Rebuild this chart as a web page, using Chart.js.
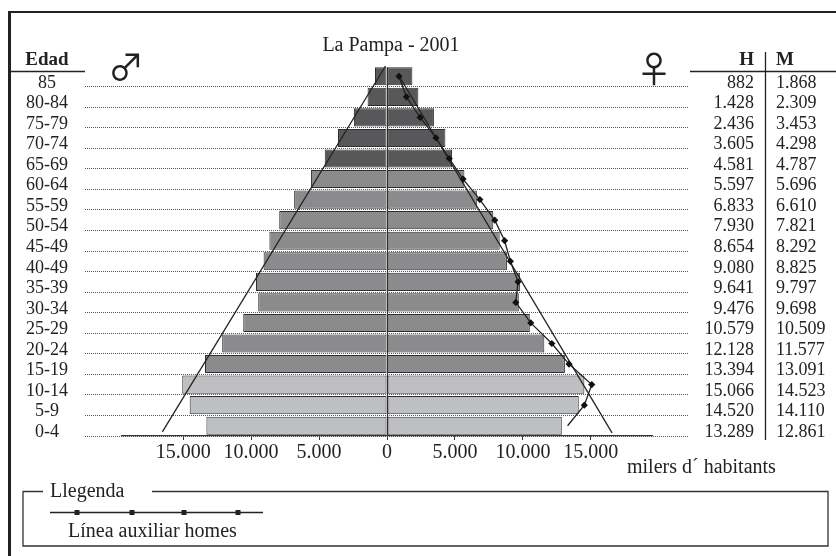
<!DOCTYPE html>
<html>
<head>
<meta charset="utf-8">
<script src="https://cdn.jsdelivr.net/npm/chart.js@4.4.1/dist/chart.umd.min.js"></script>
<style>
html,body{margin:0;padding:0;background:#fff;}
#wrap{width:836px;height:556px;}
</style>
</head>
<body>
<div id="wrap"><canvas id="piramide" width="836" height="556"></canvas></div>
<script>
var edats = ["85","80-84","75-79","70-74","65-69","60-64","55-59","50-54","45-49","40-49","35-39","30-34","25-29","20-24","15-19","10-14","5-9","0-4"];
var homes = [882,1428,2436,3605,4581,5597,6833,7930,8654,9080,9641,9476,10579,12128,13394,15066,14520,13289];
var dones = [1868,2309,3453,4298,4787,5696,6610,7821,8292,8825,9797,9698,10509,11577,13091,14523,14110,12861];
var ticksX = [-15000,-10000,-5000,0,5000,10000,15000];
// rectes guia del triangle (x en habitants, y en files des de dalt)
var guiaEsqX = [-110,-16530];
var guiaEsqY = [0,17.8];
var guiaDretaX = [900,16560];
var guiaDretaY = [0.5,17.85];

var serif = "'Liberation Serif','Times New Roman',serif";
Chart.defaults.font.family = serif;
Chart.defaults.color = "#222";

function fmt(n){
  return String(n).replace(/\B(?=(\d{3})+(?!\d))/g,".");
}

function colorFila(i){
  if(i < 5) return "#58585b";
  if(i < 15) return "#8b8b8d";
  return "#bebfc2";
}

var colors = [];
for(var i = 0;i < edats.length;i++){
  colors.push(colorFila(i));
}

var auxPunts = [];
var auxRadi = [];
for(var i = 0;i < homes.length;i++){
  auxPunts.push({x: homes[i], y: i + 0.5});
  auxRadi.push(i == homes.length - 1 ? 0 : 3.6);
}
var esqPunts = [], dretaPunts = [];
for(var i = 0;i < 2;i++){
  esqPunts.push({x: guiaEsqX[i], y: guiaEsqY[i]});
  dretaPunts.push({x: guiaDretaX[i], y: guiaDretaY[i]});
}

var decor = {
  id: "decor",
  beforeDatasetsDraw: function(chart){
    var ctx = chart.ctx, ys = chart.scales.y;
    var slot = (ys.bottom - ys.top) / edats.length;
    ctx.save();
    ctx.strokeStyle = "#555";
    ctx.lineWidth = 1;
    ctx.setLineDash([1,1]);
    for(var i = 0;i < edats.length;i++){
      var y = Math.round(ys.getPixelForValue(i) + slot/2 - 0.5) + 0.5;
      ctx.beginPath();
      ctx.moveTo(85,y);
      ctx.lineTo(689,y);
      ctx.stroke();
    }
    ctx.restore();
  },
  afterDatasetsDraw: function(chart){
    // linia central del zero
    var ctx = chart.ctx, xs = chart.scales.x;
    var barra = chart.getDatasetMeta(0).data[0];
    var x0 = Math.round(xs.getPixelForValue(0)) + 0.5;
    ctx.save();
    ctx.strokeStyle = "#2e2e2e";
    ctx.lineWidth = 1.2;
    ctx.beginPath();
    ctx.moveTo(x0, barra.y - barra.height/2);
    ctx.lineTo(x0, chart.chartArea.bottom);
    ctx.stroke();
    ctx.restore();
  },
  afterDraw: function(chart){
    var ctx = chart.ctx, ys = chart.scales.y;
    var slot = (ys.bottom - ys.top) / edats.length;
    ctx.save();
    ctx.fillStyle = "#222";
    ctx.strokeStyle = "#222";
    ctx.textBaseline = "alphabetic";

    // marc
    ctx.lineWidth = 2;
    ctx.beginPath(); ctx.moveTo(8,12); ctx.lineTo(836,12); ctx.stroke();
    ctx.lineWidth = 3;
    ctx.beginPath(); ctx.moveTo(9.5,11); ctx.lineTo(9.5,556); ctx.stroke();

    // titol
    ctx.font = "20px " + serif;
    ctx.textAlign = "center";
    ctx.fillText("La Pampa - 2001",391,51);

    // edats
    ctx.font = "bold 19px " + serif;
    ctx.fillText("Edad",47,65);
    ctx.font = "18px " + serif;
    for(var i = 0;i < edats.length;i++){
      var y = Math.round(ys.getPixelForValue(i) + slot/2) + 1;
      ctx.textAlign = "center";
      ctx.fillText(edats[i],47,y);
      ctx.textAlign = "right";
      ctx.fillText(fmt(homes[i]),754,y);
      ctx.textAlign = "left";
      ctx.fillText(fmt(dones[i]),776,y);
    }
    ctx.font = "bold 19px " + serif;
    ctx.textAlign = "right";
    ctx.fillText("H",754,65);
    ctx.textAlign = "left";
    ctx.fillText("M",776,65);

    ctx.lineWidth = 1.3;
    ctx.beginPath();
    ctx.moveTo(10,71.5); ctx.lineTo(85,71.5);
    ctx.moveTo(690,71.5); ctx.lineTo(836,71.5);
    ctx.moveTo(765.5,52); ctx.lineTo(765.5,440);
    ctx.stroke();

    // simbols
    ctx.font = "36px 'Noto Sans CJK JP','DejaVu Sans'";
    ctx.textAlign = "center";
    ctx.textBaseline = "middle";
    ctx.fillText("\u2642",126,67);
    ctx.fillText("\u2640",654,69);
    ctx.textBaseline = "alphabetic";

    // unitats
    ctx.font = "20px " + serif;
    ctx.textAlign = "left";
    ctx.fillText("milers d\u00b4 habitants",627,473);

    // llegenda
    ctx.strokeStyle = "#333";
    ctx.lineWidth = 1.3;
    ctx.beginPath();
    ctx.moveTo(43,491.5); ctx.lineTo(23,491.5); ctx.lineTo(23,546);
    ctx.lineTo(828,546); ctx.lineTo(828,491.5); ctx.lineTo(152,491.5);
    ctx.stroke();
    ctx.fillText("Llegenda",50,497);
    ctx.strokeStyle = "#222";
    ctx.beginPath(); ctx.moveTo(50,512.5); ctx.lineTo(263,512.5); ctx.stroke();
    var mk = [77,132,184,238];
    for(var k = 0;k < mk.length;k++){
      ctx.fillRect(mk[k]-2.5,510,5,5);
    }
    ctx.fillText("L\u00ednea auxiliar homes",68,537);
    ctx.restore();
  }
};

var ctx = document.getElementById("piramide").getContext("2d");
var piramide = new Chart(ctx, {
  type: "bar",
  data: {
    labels: edats,
    datasets: [{
      label: "homes",
      data: homes.map(function(v){ return -v; }),
      backgroundColor: colors,
      borderColor: "#2e2e2e",
      borderWidth: 1,
      borderSkipped: false,
      grouped: false,
      barPercentage: 0.88,
      categoryPercentage: 1,
      order: 2
    }, {
      label: "dones",
      data: dones,
      backgroundColor: colors,
      borderColor: "#2e2e2e",
      borderWidth: 1,
      borderSkipped: false,
      grouped: false,
      barPercentage: 0.88,
      categoryPercentage: 1,
      order: 2
    }, {
      type: "line",
      label: "L\u00ednea auxiliar homes",
      indexAxis: "x",
      xAxisID: "x",
      yAxisID: "yl",
      data: auxPunts,
      borderColor: "#222",
      borderWidth: 1.3,
      pointStyle: "rectRot",
      pointRadius: auxRadi,
      pointBackgroundColor: "#111",
      pointBorderWidth: 0,
      fill: false,
      clip: false,
      order: 1
    }, {
      type: "line",
      label: "guia esq",
      indexAxis: "x",
      xAxisID: "x",
      yAxisID: "yl",
      data: esqPunts,
      borderColor: "#222",
      borderWidth: 1.3,
      pointRadius: 0,
      fill: false,
      clip: false,
      order: 1
    }, {
      type: "line",
      label: "guia dreta",
      indexAxis: "x",
      xAxisID: "x",
      yAxisID: "yl",
      data: dretaPunts,
      borderColor: "#222",
      borderWidth: 1.3,
      pointRadius: 0,
      fill: false,
      clip: false,
      order: 1
    }]
  },
  options: {
    indexAxis: "y",
    responsive: false,
    animation: false,
    devicePixelRatio: 1,
    layout: {padding: {left: 122, right: 184, top: 66, bottom: 90}},
    plugins: {legend: {display: false}, tooltip: {enabled: false}},
    scales: {
      x: {
        type: "linear",
        position: "bottom",
        min: -19500,
        max: 19500,
        afterBuildTicks: function(scale){
          scale.ticks = ticksX.map(function(v){ return {value: v}; });
        },
        afterFit: function(scale){ scale.height = 30; },
        grid: {drawOnChartArea: false, drawTicks: true, tickLength: 4, color: "#333"},
        border: {display: true, color: "#333", width: 1.3},
        ticks: {
          font: {size: 20},
          color: "#222",
          padding: 1,
          maxRotation: 0,
          autoSkip: false,
          callback: function(v){ return fmt(Math.abs(v)); }
        }
      },
      y: {type: "category", display: false, offset: true},
      yl: {type: "linear", display: false, min: 0, max: 18, reverse: true, offset: false}
    }
  },
  plugins: [decor]
});
</script>
</body>
</html>
